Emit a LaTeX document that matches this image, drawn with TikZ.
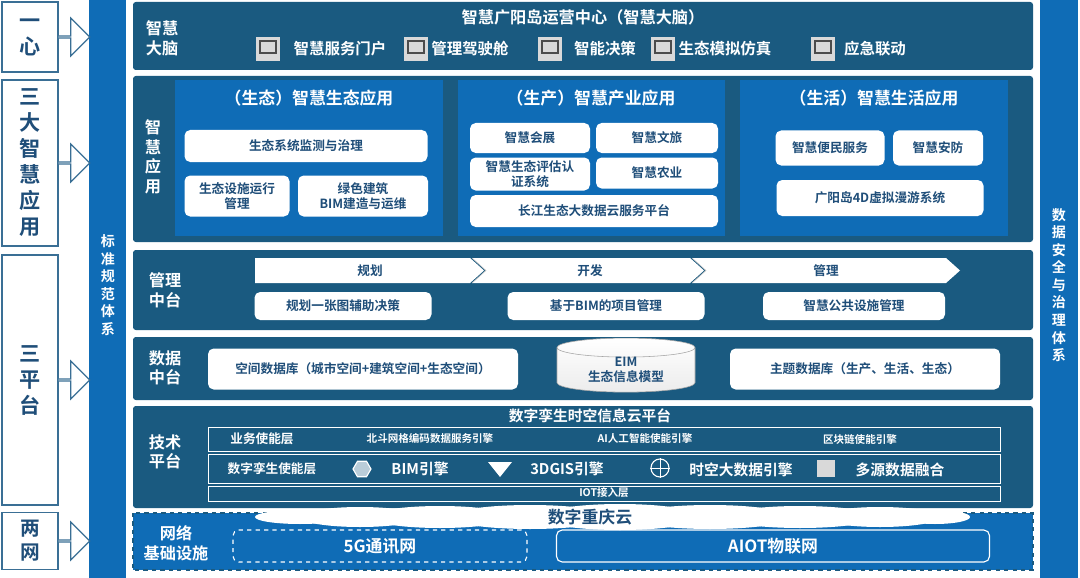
\documentclass[tikz,border=0pt]{standalone}
\usepackage{fontspec}
\setmainfont{Noto Sans CJK SC}[BoldFont={Noto Sans CJK SC Bold}]
\usetikzlibrary{shapes.arrows,shapes.geometric}
\definecolor{panel}{HTML}{1A5A80}
\definecolor{sub}{HTML}{0F6CB6}
\definecolor{ink}{HTML}{1F4E79}
\definecolor{edgec}{HTML}{3A6F95}
\definecolor{icon}{HTML}{D9D9D9}
\tikzset{
  layer/.style={fill=panel,rounded corners=2},
  subpanel/.style={fill=sub},
  wbox/.style={fill=white,rounded corners=4,text=ink,font=\bfseries\fontsize{9}{10.5}\selectfont,align=center},
  lbox/.style={draw=edgec,thick,fill=white,text=ink,font=\bfseries\fontsize{15}{18.5}\selectfont,align=center},
  lab/.style={text=white,font=\bfseries\fontsize{11.5}{14}\selectfont,align=center},
  ttl/.style={text=white,font=\bfseries\fontsize{10.5}{12}\selectfont},
  sm/.style={text=white,font=\bfseries\fontsize{7.5}{9}\selectfont},
  row/.style={draw=white,thin},
  ico/.style={fill=icon,draw=gray,rounded corners=1},
}
\begin{document}
\begin{tikzpicture}[x=0.025cm,y=-0.025cm]
\useasboundingbox (0,0) rectangle (1080,578);

% side bars
\fill[sub] (89,0) rectangle (126,578);
\node[lab,font=\bfseries\fontsize{10}{12.5}\selectfont] (std) at (108,285) {标\\准\\规\\范\\体\\系};
\fill[sub] (1040,0) rectangle (1078,578);
\node[lab,font=\bfseries\fontsize{10}{12.5}\selectfont] (sec) at (1059,285) {数\\据\\安\\全\\与\\治\\理\\体\\系};

% left column
\node[lbox,minimum width=56*0.025cm,minimum height=70*0.025cm] (onec) at (30,37) {一\\心};
\node[lbox,minimum width=56*0.025cm,minimum height=166*0.025cm] (three) at (30,163) {三\\大\\智\\慧\\应\\用};
\node[lbox,minimum width=56*0.025cm,minimum height=250*0.025cm] (plat) at (30,380) {三\\平\\台};
\node[lbox,minimum width=56*0.025cm,minimum height=57*0.025cm,font=\bfseries\fontsize{14}{17}\selectfont] (two) at (30,541) {两\\网};
\begin{scope}[every node/.style={single arrow,draw=edgec,thick,fill=white,minimum height=32*0.025cm,minimum width=38*0.025cm,single arrow head extend=10*0.025cm,single arrow head indent=0pt,inner sep=0pt,anchor=tail}]
  \node (a1) at ([xshift=-1]onec.east) {};
  \node (a2) at ([xshift=-1]three.east) {};
  \node (a3) at ([xshift=-1]plat.east) {};
  \node (a4) at ([xshift=-1]two.east) {};
\end{scope}

% brain
\fill[layer] (133,2) rectangle (1033,70);
\node[ttl,font=\bfseries\fontsize{11.5}{13}\selectfont] (brain) at (583,17) {智慧广阳岛运营中心（智慧大脑）};
\node[lab] (brainl) at (162,38) {智慧\\大脑};
\foreach \ix/\tx/\t in {268/340/智慧服务门户,416/470/管理驾驶舱,550/605/智能决策,663/725/生态模拟仿真,823/875/应急联动}{
  \fill[icon] (\ix-12,37) rectangle (\ix+12,61);
  \draw[gray!60!black,thick] (\ix-8,41) rectangle (\ix+8,53);
  \node[ttl,font=\bfseries\fontsize{11}{13}\selectfont] at (\tx,49) {\t};
}

% applications
\fill[layer] (133,76) rectangle (1033,242);
\node[lab] (appl) at (153,157) {智\\慧\\应\\用};
\fill[subpanel] (175,80) rectangle (443,236);
\fill[subpanel] (458,80) rectangle (725,236);
\fill[subpanel] (740,80) rectangle (1008,236);
\node[ttl,font=\bfseries\fontsize{12}{14}\selectfont] (eco) at (309,98) {（生态）智慧生态应用};
\node[ttl,font=\bfseries\fontsize{12}{14}\selectfont] (prod) at (591,98) {（生产）智慧产业应用};
\node[ttl,font=\bfseries\fontsize{12}{14}\selectfont] (life) at (874,98) {（生活）智慧生活应用};
\begin{scope}[every node/.style={wbox,inner sep=0pt}]
  \node[minimum width=243*0.025cm,minimum height=32*0.025cm] (e1) at (306,146) {生态系统监测与治理};
  \node[minimum width=105*0.025cm,minimum height=41*0.025cm] (e2) at (237,196) {生态设施运行\\管理};
  \node[minimum width=130*0.025cm,minimum height=41*0.025cm] (e3) at (363,196) {绿色建筑\\BIM建造与运维};
  \node[minimum width=120*0.025cm,minimum height=30*0.025cm] (p1) at (530,138) {智慧会展};
  \node[minimum width=122*0.025cm,minimum height=30*0.025cm] (p2) at (657,138) {智慧文旅};
  \node[minimum width=120*0.025cm,minimum height=33*0.025cm] (p3) at (530,174) {智慧生态评估认\\证系统};
  \node[minimum width=122*0.025cm,minimum height=31*0.025cm] (p4) at (657,173) {智慧农业};
  \node[minimum width=248*0.025cm,minimum height=32*0.025cm] (p5) at (594,211) {长江生态大数据云服务平台};
  \node[minimum width=109*0.025cm,minimum height=35*0.025cm] (l1) at (830,148) {智慧便民服务};
  \node[minimum width=90*0.025cm,minimum height=35*0.025cm] (l2) at (938,148) {智慧安防};
  \node[minimum width=207*0.025cm,minimum height=36*0.025cm] (l3) at (880,198) {广阳岛4D虚拟漫游系统};
\end{scope}

% management
\fill[layer] (133,250) rectangle (1033,330);
\node[lab] (mgl) at (165,290) {管理\\中台};
\fill[white] (255,258) -- (470,258) -- (484,270.5) -- (470,283) -- (255,283) -- cycle;
\fill[white] (472,258) -- (690,258) -- (704,270.5) -- (690,283) -- (472,283) -- (486,270.5) -- cycle;
\fill[white] (692,258) -- (946,258) -- (960,270.5) -- (946,283) -- (692,283) -- (706,270.5) -- cycle;
\draw[gray!50] (472,258) -- (486,270.5) -- (472,283) (692,258) -- (706,270.5) -- (692,283);
\node[wbox] (plan) at (370,270.5) {规划};
\node[wbox] (dev) at (590,270.5) {开发};
\node[wbox] (mgt) at (826,270.5) {管理};
\begin{scope}[every node/.style={wbox,inner sep=0pt,minimum height=28*0.025cm}]
  \node[minimum width=177*0.025cm] (m1) at (343,306) {规划一张图辅助决策};
  \node[minimum width=197*0.025cm] (m2) at (606,306) {基于BIM的项目管理};
  \node[minimum width=182*0.025cm] (m3) at (854,306) {智慧公共设施管理};
\end{scope}

% data
\fill[layer] (133,337) rectangle (1033,400);
\node[lab] (dtl) at (165,368) {数据\\中台};
\begin{scope}[every node/.style={wbox,inner sep=0pt,minimum height=41*0.025cm}]
  \node[minimum width=310*0.025cm] (d1) at (363,369) {空间数据库（城市空间+建筑空间+生态空间）};
  \node[minimum width=270*0.025cm] (d2) at (865,369) {主题数据库（生产、生活、生态）};
\end{scope}
\node[cylinder,shape border rotate=90,aspect=0.25,draw=gray!70,top color=white,bottom color=gray!15,minimum width=138*0.025cm,minimum height=42*0.025cm,text=ink,font=\bfseries\fontsize{9}{10.5}\selectfont,align=center,inner sep=0pt] (eim) at (626,370) {EIM\\生态信息模型};

% tech
\fill[layer] (133,406) rectangle (1033,508);
\node[lab] (tcl) at (165,452) {技术\\平台};
\node[ttl] (cloudp) at (590,416) {数字孪生时空信息云平台};
\draw[row] (208,427) rectangle (1000,451);
\draw[row] (208,454) rectangle (1000,483);
\draw[row] (208,486) rectangle (1000,501);
\node[sm,font=\bfseries\fontsize{9}{10}\selectfont] (r1) at (262,439) {业务使能层};
\node[sm] (r1a) at (430,438) {北斗网格编码数据服务引擎};
\node[sm] (r1b) at (645,438) {AI人工智能使能引擎};
\node[sm] (r1c) at (860,439) {区块链使能引擎};
\node[sm,font=\bfseries\fontsize{9}{10}\selectfont] (r2) at (272,469) {数字孪生使能层};
\node[regular polygon,regular polygon sides=6,draw=white,thick,fill=white!70!panel,minimum size=18*0.025cm,inner sep=0pt] (i1) at (362,469) {};
\node[ttl] (r2a) at (420,469) {BIM引擎};
\fill[white] (488,462) -- (512,462) -- (500,477) -- cycle;
\node[ttl] (r2b) at (567,469) {3DGIS引擎};
\node[circle,draw=white,thick,minimum size=18*0.025cm,inner sep=0pt] (i3) at (660,468) {};
\draw[white] (i3.north) -- (i3.south) (i3.west) -- (i3.east);
\node[ttl] (r2c) at (741,470) {时空大数据引擎};
\fill[icon] (817,460) rectangle (835,477);
\node[ttl] (r2d) at (900,470) {多源数据融合};
\node[sm] (r3) at (604,493) {IOT接入层};

% network
\fill[sub] (133,513) rectangle (1033,570);
\draw[panel,thick,dashed] (133,513) rectangle (1033,570);
\foreach \cx/\rx/\ry in {300/45/7,360/60/10,440/70/11,530/80/12,620/80/13,710/80/12,800/75/11,880/60/10,935/35/7}
  \fill[white] (\cx,517) ellipse ({\rx*0.025cm} and {\ry*0.025cm});
\node[ttl,text=ink,font=\bfseries\fontsize{12}{14}\selectfont] (cq) at (590,517) {数字重庆云};
\node[lab] (net) at (176,543) {网络\\基础设施};
\node[draw=white,thick,dashed,rounded corners=4,minimum width=294*0.025cm,minimum height=32*0.025cm,ttl,font=\bfseries\fontsize{12}{14}\selectfont] (g5) at (380,546) {5G通讯网};
\node[draw=white,thick,rounded corners=4,minimum width=433*0.025cm,minimum height=32*0.025cm,ttl,font=\bfseries\fontsize{12}{14}\selectfont] (aiot) at (773,546) {AIOT物联网};
\end{tikzpicture}
\end{document}
